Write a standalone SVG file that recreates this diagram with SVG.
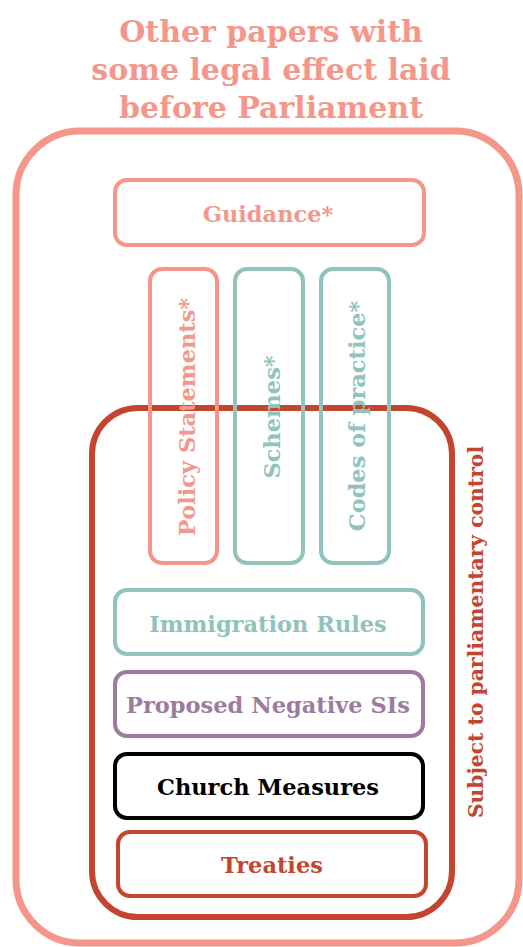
<svg xmlns="http://www.w3.org/2000/svg" width="523" height="947" viewBox="0 0 523 947">
<style>
text{font-family:"DejaVu Serif","Liberation Serif",serif;font-weight:bold;text-anchor:middle}
.box{fill:none;stroke-width:4}
.salmon{stroke:#F4978A}.salmonT{fill:#F4978A}
.teal{stroke:#8FC3BC}.tealT{fill:#8FC3BC}
.red{stroke:#C4452F}.redT{fill:#C4452F}
.purple{stroke:#9D7B9E}.purpleT{fill:#9D7B9E}
.black{stroke:#000}.blackT{fill:#000}
.lbl{font-size:22.5px}
</style>
<rect width="523" height="947" fill="#fff"/>
<g id="title">
<text class="salmonT" x="271" y="42" font-size="30">Other papers with</text>
<text class="salmonT" x="271" y="80" font-size="30">some legal effect laid</text>
<text class="salmonT" x="271" y="118" font-size="30">before Parliament</text>
</g>
<g id="outer"><rect x="16" y="131" width="503" height="812" rx="64" fill="none" stroke="#F4978A" stroke-width="7"/></g>
<g id="subject">
<rect x="92" y="408" width="360" height="509" rx="46" fill="none" stroke="#C4452F" stroke-width="6"/>
<text class="redT" transform="translate(483,632) rotate(-90)" font-size="20.3">Subject to parliamentary control</text>
</g>
<g id="guidance"><rect class="box salmon" x="115" y="180" width="309" height="65" rx="12"/><text class="salmonT lbl" x="268" y="222">Guidance*</text></g>
<g id="policy"><rect class="box salmon" x="150" y="269" width="67" height="294" rx="12"/><text class="salmonT lbl" transform="translate(195,417) rotate(-90)">Policy Statements*</text></g>
<g id="schemes"><rect class="box teal" x="235" y="269" width="68" height="294" rx="12"/><text class="tealT lbl" transform="translate(280,417) rotate(-90)">Schemes*</text></g>
<g id="codes"><rect class="box teal" x="321" y="269" width="68" height="294" rx="12"/><text class="tealT lbl" transform="translate(365,416) rotate(-90)">Codes of practice*</text></g>
<g id="immigration"><rect class="box teal" x="115" y="590" width="308" height="64" rx="12"/><text class="tealT lbl" x="268" y="632">Immigration Rules</text></g>
<g id="negative"><rect class="box purple" x="115" y="672" width="308" height="64" rx="12"/><text class="purpleT lbl" x="268" y="713">Proposed Negative SIs</text></g>
<g id="church"><rect class="box black" x="115" y="754" width="308" height="64" rx="12"/><text class="blackT lbl" x="268" y="795">Church Measures</text></g>
<g id="treaties"><rect class="box red" x="118" y="832" width="308" height="64" rx="12"/><text class="redT lbl" x="272" y="873">Treaties</text></g>
<g id="connectors"></g>
</svg>
